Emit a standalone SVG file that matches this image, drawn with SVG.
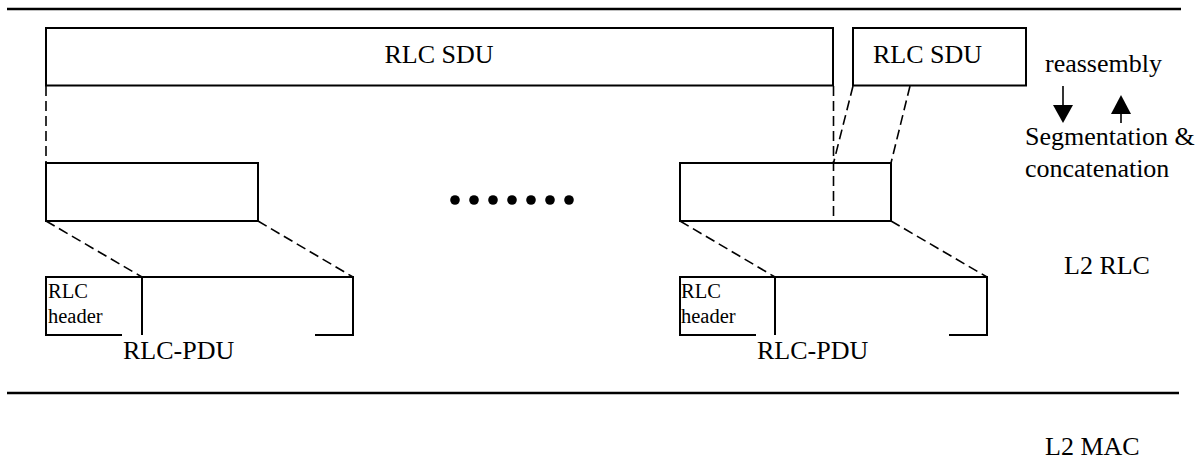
<svg xmlns="http://www.w3.org/2000/svg" width="1202" height="459" viewBox="0 0 1202 459">
<style>
.box{fill:none;stroke:#000;stroke-width:2}
.rule{stroke:#000;stroke-width:2.5}
.dash{fill:none;stroke:#000;stroke-width:1.6;stroke-dasharray:10 5}
.t{font-family:"Liberation Serif","Times New Roman",serif;font-size:26px;fill:#000}
.s{font-family:"Liberation Serif","Times New Roman",serif;font-size:20.5px;fill:#000}
</style>
<rect width="1202" height="459" fill="#fff"/>
<line class="rule" x1="7" y1="9" x2="1181" y2="9"/>
<line class="rule" x1="7" y1="393" x2="1179" y2="393"/>
<g id="sdu1"><rect class="box" x="46" y="28" width="787" height="57.5"/><text class="t" x="439" y="63" text-anchor="middle">RLC SDU</text></g>
<g id="sdu2"><rect class="box" x="853" y="28" width="173" height="57.5"/><text class="t" x="927.5" y="63" text-anchor="middle">RLC SDU</text></g>
<g id="seg1"><rect class="box" x="46" y="163" width="212" height="58"/></g>
<g id="seg2"><rect class="box" x="680" y="163" width="211" height="58"/></g>
<g id="dots">
<circle cx="455" cy="200" r="4.8"/><circle cx="474" cy="200" r="4.8"/><circle cx="493" cy="200" r="4.8"/><circle cx="512" cy="200" r="4.8"/><circle cx="531" cy="200" r="4.8"/><circle cx="550" cy="200" r="4.8"/><circle cx="569" cy="200" r="4.8"/>
</g>
<g id="pdu1">
<path class="box" d="M122 335 H46 V277 H353 V335 H315 M142 277 V335"/>
<text class="s" x="48" y="298">RLC</text><text class="s" x="48" y="323">header</text>
<text class="t" x="123" y="359">RLC-PDU</text>
</g>
<g id="pdu2">
<path class="box" d="M756 335 H680 V277 H987 V335 H949 M775 277 V335"/>
<text class="s" x="681" y="298">RLC</text><text class="s" x="681" y="323">header</text>
<text class="t" x="757" y="359">RLC-PDU</text>
</g>
<g id="connectors">
<line class="dash" x1="46" y1="86" x2="46" y2="163"/>
<line class="dash" x1="833.5" y1="86" x2="833.5" y2="221"/>
<line class="dash" x1="853" y1="86" x2="833.5" y2="163"/>
<line class="dash" x1="910" y1="86" x2="891" y2="163"/>
<line class="dash" x1="46" y1="221" x2="142" y2="277"/>
<line class="dash" x1="258" y1="221" x2="353" y2="277"/>
<line class="dash" x1="680" y1="221" x2="775" y2="277"/>
<line class="dash" x1="891" y1="221" x2="987" y2="277"/>
</g>
<g id="arrows">
<line x1="1063" y1="86" x2="1063" y2="106" stroke="#000" stroke-width="1.6"/>
<polygon points="1053,105 1073,105 1063,123"/>
<polygon points="1121,95 1111,114 1131,114"/>
<line x1="1121" y1="113" x2="1121" y2="123" stroke="#000" stroke-width="1.6"/>
</g>
<g id="labels">
<text class="t" x="1045" y="72">reassembly</text>
<text class="t" x="1025" y="145">Segmentation &amp;</text>
<text class="t" x="1025" y="177">concatenation</text>
<text class="t" x="1064" y="274">L2 RLC</text>
<text class="t" x="1045" y="455">L2 MAC</text>
</g>
</svg>
